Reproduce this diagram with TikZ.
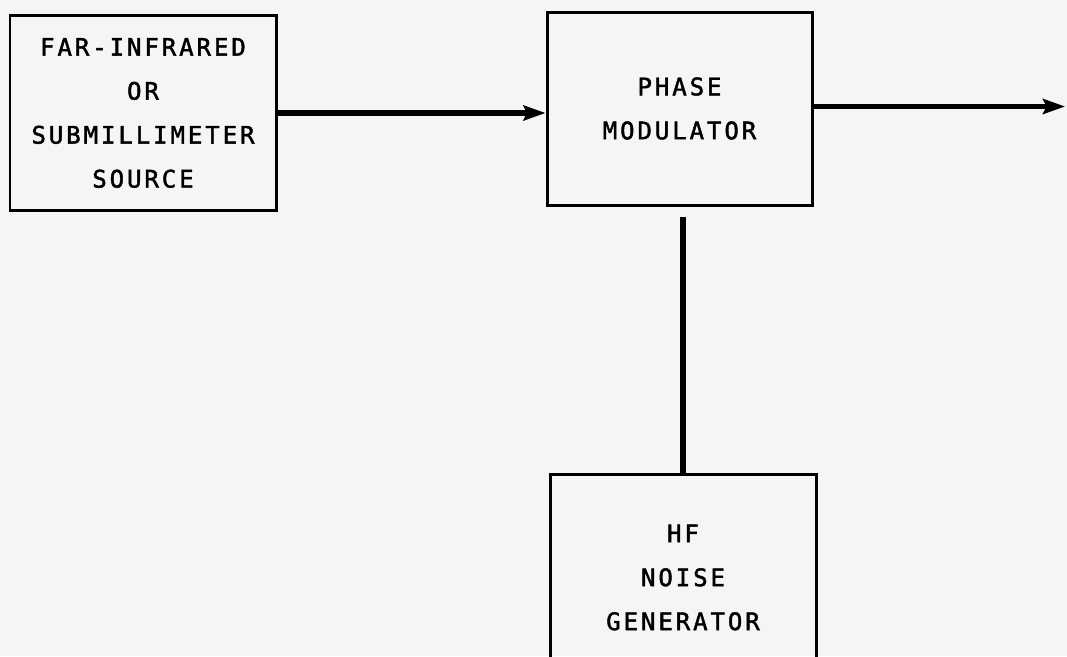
\documentclass[tikz,border=0pt]{standalone}
\usepackage{fontspec}
\newfontfamily\lettering[LetterSpace=12, FakeBold=1.8]{DejaVu Sans Mono}
\usetikzlibrary{positioning,arrows.meta}

\begin{document}
\begin{tikzpicture}
    [node distance=2cm,
    block/.style={draw, line width=0.06cm, align=center, minimum width=5.32cm, minimum height=3.88cm,
        font=\lettering\fontsize{13.7}{25}\selectfont},
    feed/.style={line width=0.11cm, -{Stealth[length=0.44cm, width=0.3cm, inset=0.07cm]}},
    tie/.style={line width=0.12cm}]
        \clip (0,0) rectangle (21.34,13.12);
        \fill[black!4] (0,0) rectangle (21.34,13.12);
        \node[block] (src) at (2.86,10.86) {FAR-INFRARED\\OR\\SUBMILLIMETER\\SOURCE};
        \node[block, minimum width=5.3cm, minimum height=3.86cm, right=5.36cm of src, yshift=0.09cm] (mod) {PHASE\\MODULATOR};
        \node[block, minimum height=4.14cm, below=5.32cm of mod, xshift=0.07cm] (gen) {HF\\NOISE\\GENERATOR};
        \coordinate (out) at (21.3,10.99);

        \draw[feed] (src.east) -- (src.east -| mod.west);
        \draw[feed] (mod.east |- out) -- (out);
        \draw[tie, shorten >=0.2cm] (gen.north) -- (gen.north |- mod.south);
\end{tikzpicture}
\end{document}
